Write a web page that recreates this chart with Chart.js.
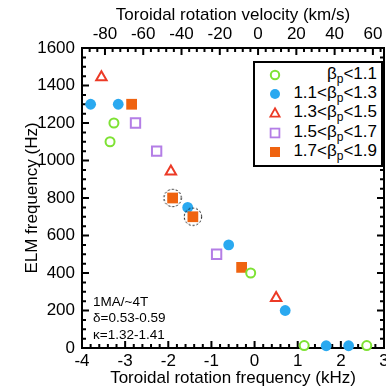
<!DOCTYPE html>
<html><head><meta charset="utf-8">
<script src="https://cdn.jsdelivr.net/npm/chart.js@4.4.0/dist/chart.umd.min.js"></script>
<style>
html,body{margin:0;padding:0;background:#fff;}
#wrap{position:relative;width:386px;height:389px;overflow:hidden;font-family:'Liberation Sans',Arial,sans-serif;color:#000;}
#wrap canvas{position:absolute;left:0;top:0;}
#legend{position:absolute;left:253px;top:61px;width:130px;height:106px;box-sizing:border-box;border:2px solid #000;background:#fff;z-index:2;}
.mk{position:absolute;width:14px;height:14px;z-index:3;}
.lbl{position:absolute;font-size:17px;line-height:20px;height:20px;white-space:nowrap;text-align:right;z-index:3;}
.lbl sub{font-size:12px;vertical-align:-4px;line-height:0;}
#note{position:absolute;left:93px;top:294px;font-size:13.5px;line-height:16.3px;white-space:nowrap;z-index:2;}
</style>
</head><body>
<div id="wrap">
<div id="legend"></div>
<div id="note">1MA/~4T<br>δ=0.53-0.59<br>κ=1.32-1.41</div>
</div>
<script>
// ---- axis ranges & ticks ----
const xMin = -4, xMax = 3;
const yMin = 0, yMax = 1600;
const velMin = -92, velMax = 65.8;      // top axis range (km/s) as drawn
const xTicks = [-4, -3, -2, -1, 0, 1, 2, 3];
const velTicks = [-80, -60, -40, -20, 0, 20, 40, 60];
const yTicks = [0, 200, 400, 600, 800, 1000, 1200, 1400, 1600];

// ---- series (x: toroidal rotation frequency kHz, y: ELM frequency Hz) ----
const g_x = [-3.26, -3.35, -0.09, 1.15, 2.60];            // βp<1.1
const g_y = [1200, 1100, 400, 13, 13];
const b_x = [-3.80, -3.16, -1.55, -0.60, 0.71, 1.66, 2.18]; // 1.1<βp<1.3
const b_y = [1300, 1300, 750, 550, 200, 12, 12];
const r_x = [-3.55, -1.94, 0.50];                          // 1.3<βp<1.5
const r_y = [1444, 941, 267];
const p_x = [-2.76, -2.27, -0.88];                         // 1.5<βp<1.7
const p_y = [1200, 1050, 500];
const o_x = [-2.85, -1.90, -1.43, -0.30];                  // 1.7<βp<1.9
const o_y = [1300, 800, 700, 430];
const c_x = [-1.90, -1.43];                                // dashed circle highlights
const c_y = [800, 700];

const legendPre = ['', '1.1<', '1.3<', '1.5<', '1.7<'];
const legendPost = ['<1.1', '<1.3', '<1.5', '<1.7', '<1.9'];

const GREEN = '#7ee234', BLUE = '#2aa9f0', RED = '#ec3a26', PURPLE = '#b47ee6', ORANGE = '#ef6310';
const FONT = "'Liberation Sans', Arial, sans-serif";
const TARGET_RIGHT = 384;

const pts = (xs, ys) => xs.map((x, i) => ({x, y: ys[i]}));

// dashed circle marker
const dc = document.createElement('canvas');
dc.width = 22; dc.height = 22;
{
  const g = dc.getContext('2d');
  g.strokeStyle = '#000'; g.lineWidth = 1; g.setLineDash([2, 2]);
  g.beginPath(); g.arc(11, 11, 8.7, 0, Math.PI * 2); g.stroke();
}

const frameTicks = {
  id: 'frameTicks',
  beforeDatasetsDraw(chart) {
    const {ctx, chartArea: a, scales} = chart;
    const sx = scales.x, sy = scales.y, sv = scales.x2;
    const MAJ = 7, MIN = 4;
    ctx.save();
    ctx.strokeStyle = '#000';
    ctx.lineWidth = 2;
    ctx.beginPath();
    for (let i = xMin * 5; i <= xMax * 5; i++) {          // bottom: minor every 0.2 kHz
      const px = sx.getPixelForValue(i / 5);
      const L = (i % 5 === 0) ? MAJ : MIN;
      ctx.moveTo(px, a.bottom); ctx.lineTo(px, a.bottom - L);
    }
    for (let v = -88; v <= 64; v += 4) {                  // top: minor every 4 km/s
      const px = sv.getPixelForValue(v);
      const L = (v % 20 === 0) ? MAJ : MIN;
      ctx.moveTo(px, a.top); ctx.lineTo(px, a.top + L);
    }
    for (let v = yMin; v <= yMax; v += 50) {              // left & right: minor every 50 Hz
      const py = sy.getPixelForValue(v);
      const L = (v % 200 === 0) ? MAJ : MIN;
      ctx.moveTo(a.left, py); ctx.lineTo(a.left + L, py);
      ctx.moveTo(a.right, py); ctx.lineTo(a.right - L, py);
    }
    ctx.stroke();
    ctx.strokeRect(a.left, a.top, a.right - a.left, a.bottom - a.top);
    ctx.restore();
  }
};

const tickFont = {family: FONT, size: 17};
const titleFont = {family: FONT, size: 17};
const plain = v => String(v);
const noPad = s => { s.paddingLeft = 0; s.paddingRight = 0; };
const wrap = document.getElementById('wrap');

function build(W) {
  const cv = document.createElement('canvas');
  cv.width = W; cv.height = 389;
  wrap.insertBefore(cv, wrap.firstChild);
  const chart = new Chart(cv, {
    type: 'scatter',
    data: {
      datasets: [
        {data: pts(c_x, c_y), pointStyle: dc, pointRadius: 9, order: 0},
        {data: pts(g_x, g_y), pointStyle: 'circle', pointRadius: 4.5, borderWidth: 2, borderColor: GREEN, backgroundColor: '#fff', order: 1},
        {data: pts(o_x, o_y), pointStyle: 'rect', pointRadius: 7.6, borderWidth: 0, borderColor: ORANGE, backgroundColor: ORANGE, order: 2},
        {data: pts(b_x, b_y), pointStyle: 'circle', pointRadius: 5.4, borderWidth: 0, borderColor: BLUE, backgroundColor: BLUE, order: 3},
        {data: pts(r_x, r_y), pointStyle: 'triangle', pointRadius: 6, borderWidth: 2, borderColor: RED, backgroundColor: '#fff', order: 4},
        {data: pts(p_x, p_y), pointStyle: 'rect', pointRadius: 6.6, borderWidth: 2, borderColor: PURPLE, backgroundColor: '#fff', order: 5}
      ].map(d => Object.assign({clip: false, pointHoverRadius: d.pointRadius}, d))
    },
    options: {
      responsive: false,
      animation: false,
      devicePixelRatio: 1,
      layout: {padding: {left: 0, right: 0, top: 0, bottom: 0}},
      plugins: {legend: {display: false}, tooltip: {enabled: false}},
      events: [],
      scales: {
        x: {
          type: 'linear', position: 'bottom', min: xMin, max: xMax,
          afterBuildTicks: s => { s.ticks = xTicks.map(v => ({value: v})); },
          afterFit: s => { s.height = 41; noPad(s); },
          grid: {display: false, drawTicks: false},
          border: {display: false},
          ticks: {font: tickFont, color: '#000', padding: 3, maxRotation: 0, autoSkip: false, callback: plain},
          title: {display: true, text: 'Toroidal rotation frequency (kHz)', font: titleFont, color: '#000', padding: {top: 0, bottom: 0}}
        },
        x2: {
          type: 'linear', position: 'top', min: velMin, max: velMax,
          afterBuildTicks: s => { s.ticks = velTicks.map(v => ({value: v})); },
          afterFit: s => { s.height = 48; noPad(s); },
          grid: {display: false, drawTicks: false},
          border: {display: false},
          ticks: {font: tickFont, color: '#000', padding: 3, maxRotation: 0, autoSkip: false, callback: plain},
          title: {display: true, text: 'Toroidal rotation velocity (km/s)', font: titleFont, color: '#000', padding: {top: 5, bottom: 0}}
        },
        y: {
          type: 'linear', position: 'left', min: yMin, max: yMax,
          afterBuildTicks: s => { s.ticks = yTicks.map(v => ({value: v})); },
          afterFit: s => { s.width = 82; },
          grid: {display: false, drawTicks: false},
          border: {display: false},
          ticks: {font: tickFont, color: '#000', padding: 7, autoSkip: false, callback: plain},
          title: {display: true, text: 'ELM frequency (Hz)', font: titleFont, color: '#000', padding: {top: 22, bottom: 0}}
        }
      }
    },
    plugins: [frameTicks]
  });
  return {chart, cv};
}

// build once, measure the right margin the layout leaves, rebuild so the plot's right edge lands at TARGET_RIGHT
let built = build(386);
const margin = 386 - built.chart.chartArea.right;
const W = Math.round(TARGET_RIGHT + margin);
if (W !== 386) {
  built.chart.destroy();
  built.cv.remove();
  built = build(W);
}

// ---- legend (HTML for subscripts) ----
const markers = [
  `<circle cx="7" cy="7" r="4.2" fill="#fff" stroke="${GREEN}" stroke-width="2"/>`,
  `<circle cx="7" cy="7" r="5" fill="${BLUE}"/>`,
  `<polygon points="7,2.3 11.6,10.6 2.4,10.6" fill="#fff" stroke="${RED}" stroke-width="1.8"/>`,
  `<rect x="2.6" y="2.6" width="8.8" height="8.8" fill="#fff" stroke="${PURPLE}" stroke-width="1.8"/>`,
  `<rect x="2" y="2" width="10" height="10" fill="${ORANGE}"/>`
];
const rowY0 = 75, rowDY = 19.2;
legendPre.forEach((pre, i) => {
  const cy = rowY0 + rowDY * i;
  const m = document.createElement('div');
  m.className = 'mk';
  m.style.left = (275 - 7) + 'px';
  m.style.top = (cy - 7) + 'px';
  m.innerHTML = `<svg width="14" height="14" viewBox="0 0 14 14">${markers[i]}</svg>`;
  wrap.appendChild(m);
  const t = document.createElement('div');
  t.className = 'lbl';
  t.style.right = (386 - 377) + 'px';
  t.style.top = (cy - 11) + 'px';
  t.appendChild(document.createTextNode(pre + 'β'));
  const sb = document.createElement('sub'); sb.textContent = 'p';
  t.appendChild(sb);
  t.appendChild(document.createTextNode(legendPost[i]));
  wrap.appendChild(t);
});
</script>
</body></html>
